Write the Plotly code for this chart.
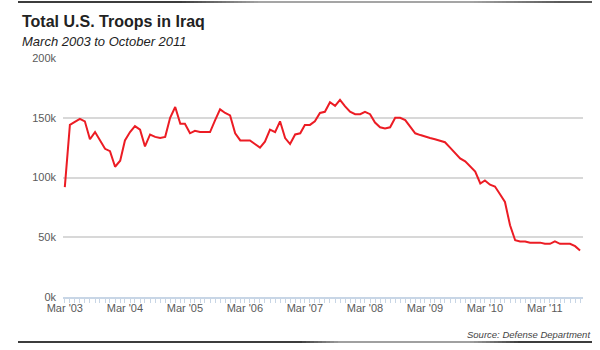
import pandas as pd
import plotly.graph_objects as go

# Monthly troop levels (thousands), March 2003 - October 2011
troops_k = [
    # 2003 Mar-Dec
    92, 144, 146.5, 149, 147, 132, 138, 131, 124, 122,
    # 2004
    109, 114, 131, 138, 143, 140, 126, 136, 134, 133, 134, 150,
    # 2005
    159, 145, 145, 137, 139, 138, 138, 138, 148, 157, 154, 152,
    # 2006
    137, 131, 131, 131, 128, 125, 130, 140, 138, 147, 133, 128,
    # 2007
    136, 137, 144, 144, 147, 154, 155, 163, 160, 165, 159.5, 155,
    # 2008
    153, 153, 155, 153, 146, 142, 141, 142, 150, 150, 148, 143,
    # 2009
    137, 135.5, 134, 133, 132, 131, 129.5, 125, 120, 116, 113.5, 109,
    # 2010
    105, 95, 97.5, 94, 92.5, 86, 79.5, 60, 47.5, 46.5, 46.5, 45.5,
    # 2011 Jan-Oct
    45.5, 45.5, 44.5, 44.5, 46.5, 44.5, 44.5, 44.5, 42.5, 39,
]
months = pd.date_range("2003-03-01", periods=len(troops_k), freq="MS")

y_ticks = [0, 50, 100, 150, 200]
y_tick_labels = ["0k", "50k", "100k", "150k", "200k"]

title_text = "Total U.S. Troops in Iraq"
subtitle_text = "March 2003 to October 2011"
source_text = "Source: Defense Department"

W, H = 600, 350
L, R, T, B = 63, 17, 58, 53
PW, PH = W - L - R, H - T - B


def px_x(px):
    return (px - L) / PW


def px_y(py):
    return (H - B - py) / PH


FONT = "Liberation Sans, Arial, sans-serif"

fig = go.Figure()
fig.add_trace(go.Scatter(
    x=months, y=troops_k, mode="lines",
    line=dict(color="#ec1c24", width=2),
    hoverinfo="skip", showlegend=False,
))

fig.update_layout(
    width=W, height=H, autosize=False,
    margin=dict(l=L, r=R, t=T, b=B),
    paper_bgcolor="white", plot_bgcolor="white",
    font=dict(family=FONT, color="#5a5a5a", size=11),
    showlegend=False,
)

fig.update_xaxes(
    range=["2003-02-18", "2011-10-19"],
    tick0="2003-03-01", dtick="M12", tickformat="%b '%y",
    showgrid=False, zeroline=False,
    showline=True, linecolor="#c8d6e6", linewidth=2,
    ticks="outside", ticklen=4, tickcolor="#c8d6e6", tickwidth=1,
    minor=dict(dtick="M1", tick0="2003-03-01", ticks="outside", ticklen=4,
               tickcolor="#c8d6e6", tickwidth=1, showgrid=False),
    tickfont=dict(family=FONT, size=11, color="#5a5a5a"),
    ticklabelstandoff=-4,
    fixedrange=True,
)
fig.update_yaxes(
    range=[0, 200], tickvals=y_ticks, ticktext=y_tick_labels,
    showgrid=True, gridcolor="#d8d8d8", gridwidth=1.5,
    zeroline=False, showline=False, ticks="",
    tickfont=dict(family=FONT, size=11, color="#5a5a5a"),
    ticklabelstandoff=6,
    fixedrange=True,
)

fig.add_annotation(
    text="<b>" + title_text + "</b>", xref="paper", yref="paper",
    x=px_x(20), y=px_y(21), xanchor="left", yanchor="middle",
    showarrow=False, font=dict(family=FONT, size=16, color="#222"),
)
fig.add_annotation(
    text="<i>" + subtitle_text + "</i>", xref="paper", yref="paper",
    x=px_x(20), y=px_y(41), xanchor="left", yanchor="middle",
    showarrow=False, font=dict(family=FONT, size=13, color="#222"),
)
fig.add_annotation(
    text="<i>" + source_text + "</i>", xref="paper", yref="paper",
    x=px_x(592), y=px_y(334), xanchor="right", yanchor="middle",
    showarrow=False, font=dict(family=FONT, size=9.5, color="#444"),
)


def shade(x, stops):
    # stops: list of (x, gray level)
    if x <= stops[0][0]:
        g = stops[0][1]
    elif x >= stops[-1][0]:
        g = stops[-1][1]
    else:
        for (x0, g0), (x1, g1) in zip(stops[:-1], stops[1:]):
            if x0 <= x <= x1:
                g = g0 + (g1 - g0) * (x - x0) / (x1 - x0)
                break
    g = int(round(g))
    return f"rgb({g},{g},{g})"


def gradient_rule(py, x_start, x_end, stops, width):
    step = 4
    x = x_start
    while x < x_end:
        x2 = min(x + step, x_end)
        fig.add_shape(
            type="line", xref="paper", yref="paper",
            x0=px_x(x), x1=px_x(x2), y0=px_y(py), y1=px_y(py),
            line=dict(color=shade((x + x2) / 2, stops), width=width),
            layer="above",
        )
        x = x2


gradient_rule(2, 18, 592, [(18, 60), (180, 60), (260, 165), (470, 165), (560, 90)], 2)
gradient_rule(342, 18, 592, [(18, 60), (300, 60), (340, 160), (470, 160), (520, 60)], 2)

fig.write_html("out.html")
